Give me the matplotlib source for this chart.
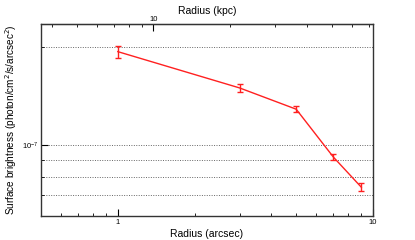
import numpy as np
import matplotlib
matplotlib.use('Agg')
import matplotlib.pyplot as plt
from matplotlib.ticker import NullFormatter, FixedLocator, FuncFormatter

plt.rcParams['font.family'] = ['Liberation Sans', 'DejaVu Sans']

# surface brightness profile
radius = [1, 3, 5, 7, 9]                       # arcsec
sb = [1.94e-7, 1.50e-7, 1.29e-7, 0.918e-7, 0.742e-7]
sb_err = [0.08e-7, 0.045e-7, 0.027e-7, 0.02e-7, 0.02e-7]
kpc_per_arcsec = 7.25
kpc_major = [10]
kpc_minor = [4, 5, 6, 7, 8, 9, 20, 30, 40, 50, 60, 70]

fig = plt.figure(figsize=(4.15, 2.4), dpi=100)
ax = fig.add_axes([0.0988, 0.1, 0.8, 0.8])

ax.errorbar(radius, sb, yerr=sb_err, color='#ff2020', lw=1.0,
            capsize=2.0, capthick=1.0, elinewidth=1.0)

ax.set_xscale('log')
ax.set_yscale('log')
ax.set_xlim(0.5, 10)
ax.set_ylim(6.05e-8, 2.36e-7)

# gridlines on major and minor y ticks
ax.yaxis.set_major_locator(FixedLocator([1e-7]))
ax.yaxis.set_minor_locator(FixedLocator([7e-8, 8e-8, 9e-8, 2e-7]))
ax.yaxis.set_minor_formatter(NullFormatter())
ax.grid(True, axis='y', which='both', ls=(0, (1, 1.5)), color='#666666', lw=0.7)

ax.xaxis.set_major_locator(FixedLocator([1, 10]))
ax.xaxis.set_minor_locator(FixedLocator([0.6, 0.7, 0.8, 0.9, 2, 3, 4, 5, 6, 7, 8, 9]))
ax.xaxis.set_major_formatter(FuncFormatter(lambda v, p: '%g' % v))
ax.xaxis.set_minor_formatter(NullFormatter())
ax.tick_params(which='both', direction='in', top=False, right=False,
               labelsize=5.5, pad=2)
ax.tick_params(which='major', length=5, width=0.8)
ax.tick_params(which='minor', length=2.5, width=0.6)

for s in ax.spines.values():
    s.set_linewidth(1.0)
    s.set_color('#333333')

ax.set_xlabel('Radius (arcsec)', fontsize=7.5, labelpad=2)
ax.set_ylabel('Surface brightness (photon/cm$^2$/s/arcsec$^2$)', fontsize=7.2, labelpad=2)

top = ax.secondary_xaxis('top', functions=(lambda x: x * kpc_per_arcsec,
                                           lambda x: x / kpc_per_arcsec))
top.xaxis.set_major_locator(FixedLocator(kpc_major))
top.xaxis.set_minor_locator(FixedLocator(kpc_minor))
top.xaxis.set_major_formatter(FuncFormatter(lambda v, p: '%g' % v))
top.xaxis.set_minor_formatter(NullFormatter())
top.tick_params(which='both', direction='in', labelsize=5.5, pad=1)
top.tick_params(which='major', length=5, width=0.8)
top.tick_params(which='minor', length=2.5, width=0.6)
top.set_xlabel('Radius (kpc)', fontsize=7.5, labelpad=1)

fig.savefig('out.png', dpi=100)
